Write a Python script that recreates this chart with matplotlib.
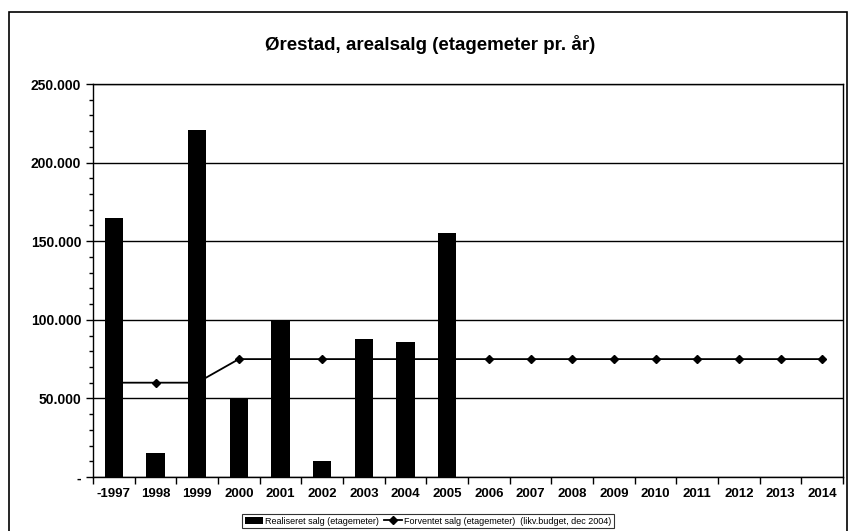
import matplotlib.pyplot as plt
import numpy as np
from matplotlib.patches import Rectangle
from matplotlib.ticker import MultipleLocator, FuncFormatter

plt.rcParams['font.family'] = ['Liberation Sans', 'DejaVu Sans']

# data
years = ['-1997', '1998', '1999', '2000', '2001', '2002', '2003', '2004', '2005',
         '2006', '2007', '2008', '2009', '2010', '2011', '2012', '2013', '2014']
realiseret = [165000, 15000, 221000, 50000, 100000, 10000, 88000, 86000, 155000,
              0, 0, 0, 0, 0, 0, 0, 0, 0]
forventet = [60000, 60000, 60000, 75000, 75000, 75000, 75000, 75000, 75000,
             75000, 75000, 75000, 75000, 75000, 75000, 75000, 75000, 75000]

fig = plt.figure(figsize=(8.49, 5.31), dpi=100)
ax = fig.add_axes([93/849, 1 - 477/531, 750/849, 393/531])

x = np.arange(len(years))
bars = ax.bar(x, realiseret, width=0.44, color='black', zorder=3,
              label='Realiseret salg (etagemeter)')
line, = ax.plot(x, forventet, color='black', lw=1.3, marker='D', ms=4, zorder=2,
                label='Forventet salg (etagemeter)  (likv.budget, dec 2004)')

ax.set_xlim(-0.5, len(years) - 0.5)
ax.set_ylim(0, 250000)
ax.yaxis.set_major_locator(MultipleLocator(50000))
ax.yaxis.set_minor_locator(MultipleLocator(10000))
ax.yaxis.set_major_formatter(FuncFormatter(
    lambda v, p: '-' if v == 0 else f'{int(v):,}'.replace(',', '.')))
ax.grid(axis='y', which='major', color='black', lw=1.0, zorder=1)

ax.set_xticks(x)
ax.set_xticklabels(years, fontsize=9.5, fontweight='bold')
ax.set_xticks(np.arange(-0.5, len(years)), minor=True)
ax.tick_params(axis='x', which='major', length=0, pad=8)
ax.tick_params(axis='x', which='minor', length=5, width=1, direction='out')
ax.tick_params(axis='y', which='major', length=5, width=1, direction='out', labelsize=10)
ax.tick_params(axis='y', which='minor', length=3, width=1, direction='out')
for lbl in ax.get_yticklabels():
    lbl.set_fontweight('bold')
for s in ax.spines.values():
    s.set_color('black')
    s.set_linewidth(1.0)

fig.text(430/849, 1 - 44/531, 'Ørestad, arealsalg (etagemeter pr. år)',
         ha='center', va='center', fontsize=13.5, fontweight='bold')

leg = fig.legend([bars, line], [bars.get_label(), line.get_label()],
                 loc='center', bbox_to_anchor=(428/849, 1 - 521/531), ncol=2,
                 fontsize=6.5, frameon=True, fancybox=False, edgecolor='black',
                 handlelength=2.0, handletextpad=0.2, columnspacing=0.6,
                 borderpad=0.3)
leg.get_frame().set_linewidth(0.8)

# outer chart frame
fig.patches.append(Rectangle((9/849, -0.01), 838/849, 1 - 12/531 + 0.01,
                             transform=fig.transFigure, fill=False,
                             edgecolor='black', lw=1.2))

fig.savefig('out.png', dpi=100)
